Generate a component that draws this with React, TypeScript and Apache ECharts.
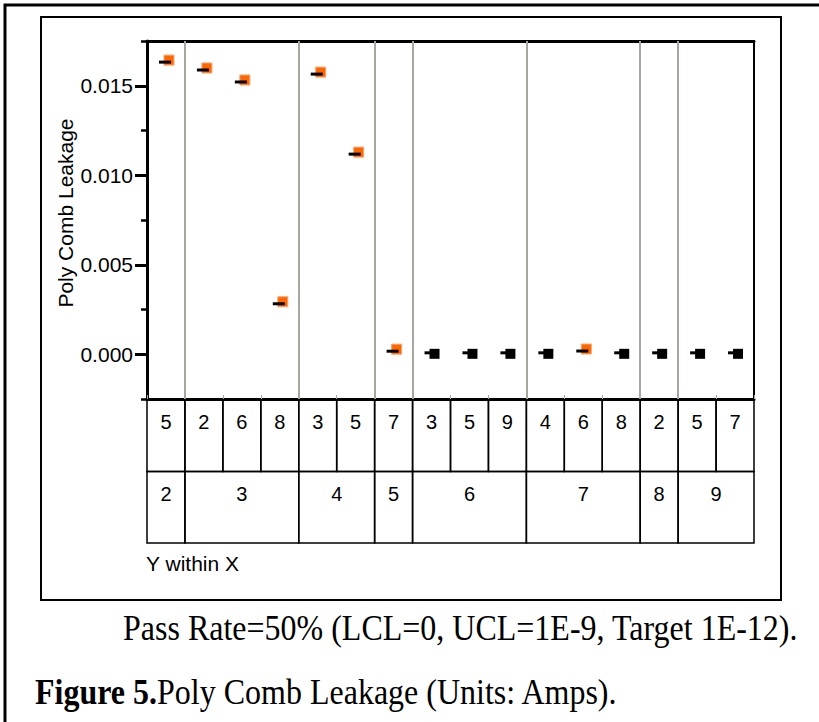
import React, { useEffect, useRef } from "react";
import * as echarts from "echarts";

// ---- data ----
const xLevels = ["2", "3", "3", "3", "4", "4", "5", "6", "6", "6", "7", "7", "7", "8", "9", "9"];
const yLevels = ["5", "2", "6", "8", "3", "5", "7", "3", "5", "9", "4", "6", "8", "2", "5", "7"];
const leakage = [0.01632, 0.01588, 0.01521, 0.00282, 0.01565, 0.01118, 0.00017, 0.00008, 0.00008, 0.00008, 0.00008, 0.00018, 0.00008, 0.00008, 0.00008, 0.00008];
const passed = [false, false, false, false, false, false, false, true, true, true, true, false, true, true, true, true];
const majorTicks = [0, 0.005, 0.01, 0.015];
const minorTicks = [-0.0025, 0.0025, 0.0075, 0.0125, 0.0175];
const yMin = -0.0025;
const yMax = 0.0175;
const yTitle = "Poly Comb Leakage";
const xTitle = "Y within X";
const caption1 = "Pass Rate=50% (LCL=0, UCL=1E-9, Target 1E-12).";
const captionBold = "Figure 5.";
const captionRest = "Poly Comb Leakage (Units: Amps).";

export default function App() {
  const ref = useRef<HTMLDivElement>(null);
  useEffect(() => {
    if (!ref.current) return;
    const chart = echarts.init(ref.current, null, { renderer: "svg" });
    const n = xLevels.length;

    // groups (consecutive runs of X level)
    const groups: { start: number; end: number; label: string }[] = [];
    xLevels.forEach((g, i) => {
      const last = groups[groups.length - 1];
      if (last && last.label === g) last.end = i + 1;
      else groups.push({ start: i, end: i + 1, label: g });
    });
    const boundaries = groups.slice(1).map((g) => g.start);

    const cells: { x0: number; x1: number; row: number; label: string }[] = [];
    yLevels.forEach((y, i) => cells.push({ x0: i, x1: i + 1, row: 0, label: y }));
    groups.forEach((g) => cells.push({ x0: g.start, x1: g.end, row: 1, label: g.label }));

    const font = "Liberation Sans, Arial, sans-serif";
    const serif = "Liberation Serif, Times New Roman, serif";

    const meanData = leakage.map((v, i) => [i + 0.5, v]);
    const failData = leakage.map((v, i) => (passed[i] ? [i + 0.5, null] : [i + 0.5, v]));
    const passData = leakage.map((v, i) => (passed[i] ? [i + 0.5, v] : [i + 0.5, null]));

    const option: any = {
      animation: false,
      backgroundColor: "#fff",
      grid: [
        { left: 147, top: 41, width: 607, height: 358, show: true, borderColor: "#000", borderWidth: 2, backgroundColor: "transparent" },
        { left: 147, top: 400, width: 607, height: 143 },
      ],
      xAxis: [
        {
          gridIndex: 0, type: "value", min: 0, max: n, interval: 1, position: "bottom",
          axisLine: { show: true, onZero: false, lineStyle: { color: "#000", width: 3 } },
          axisTick: { show: true, inside: true, length: 4, lineStyle: { color: "#aaa6a0", width: 1 } },
          axisLabel: { show: false }, splitLine: { show: false },
        },
        {
          gridIndex: 0, type: "value", min: 0, max: n, position: "top",
          axisLine: { show: true, onZero: false, lineStyle: { color: "#000", width: 3 } },
          axisTick: { show: false }, axisLabel: { show: false }, splitLine: { show: false },
        },
        { gridIndex: 1, type: "value", min: 0, max: n, show: false },
      ],
      yAxis: [
        {
          gridIndex: 0, type: "value", min: yMin, max: yMax, position: "left",
          axisLine: { show: true, onZero: false, lineStyle: { color: "#000", width: 3 } },
          axisTick: { show: true, length: 12, customValues: majorTicks, lineStyle: { color: "#000", width: 3 } },
          axisLabel: {
            customValues: majorTicks, margin: 14, fontSize: 21, color: "#000", fontFamily: font,
            formatter: (v: number) => v.toFixed(3),
          },
          splitLine: { show: false },
        },
        {
          gridIndex: 0, type: "value", min: yMin, max: yMax, position: "left",
          axisLine: { show: false },
          axisTick: { show: true, length: 6, customValues: minorTicks, lineStyle: { color: "#000", width: 2.5 } },
          axisLabel: { show: false }, splitLine: { show: false },
        },
        { gridIndex: 1, type: "value", min: 0, max: 2, inverse: true, show: false },
      ],
      series: [
        {
          type: "scatter", name: "fail", xAxisIndex: 0, yAxisIndex: 0,
          symbol: "rect", symbolSize: 10, symbolOffset: [3, -2],
          itemStyle: { color: "#ff6600", borderColor: "#f9a26c", borderWidth: 1, opacity: 1 },
          data: failData, z: 3,
          markLine: {
            silent: true, symbol: ["none", "none"], label: { show: false },
            lineStyle: { color: "#a9a59f", width: 2, type: "solid" },
            data: boundaries.map((b) => ({ xAxis: b })),
          },
        },
        {
          type: "scatter", name: "pass", xAxisIndex: 0, yAxisIndex: 0,
          symbol: "rect", symbolSize: 10, symbolOffset: [3, 1],
          itemStyle: { color: "#000", opacity: 1 },
          data: passData, z: 3,
        },
        {
          type: "scatter", name: "mean", xAxisIndex: 0, yAxisIndex: 0,
          symbol: "rect", symbolSize: [12, 3], symbolOffset: [-1, 0],
          itemStyle: { color: "#000", opacity: 1 },
          data: meanData, z: 4,
        },
        {
          type: "custom", xAxisIndex: 2, yAxisIndex: 2, clip: false,
          data: cells.map((c) => [c.x0, c.x1, c.row]),
          renderItem: (params: any, api: any) => {
            const c = cells[params.dataIndex];
            const p0 = api.coord([c.x0, c.row]);
            const p1 = api.coord([c.x1, c.row + 1]);
            return {
              type: "group",
              children: [
                {
                  type: "rect",
                  shape: { x: p0[0], y: p0[1], width: p1[0] - p0[0], height: p1[1] - p0[1] },
                  style: { fill: "none", stroke: "#000", lineWidth: 1.5 },
                },
                {
                  type: "text",
                  x: (p0[0] + p1[0]) / 2,
                  y: p0[1] + 22,
                  style: { text: c.label, font: `20px ${font}`, fill: "#000", align: "center", verticalAlign: "middle" },
                },
              ],
            };
          },
        },
      ],
      graphic: [
        { type: "polyline", shape: { points: [[5, 722], [5, 5], [819, 5]] }, style: { stroke: "#000", lineWidth: 3, fill: "none" } },
        { type: "rect", shape: { x: 41, y: 17, width: 740, height: 583 }, style: { fill: "none", stroke: "#000", lineWidth: 2 } },
        { type: "text", x: 65, y: 213, rotation: Math.PI / 2, style: { text: yTitle, font: `21px ${font}`, fill: "#000", align: "center", verticalAlign: "middle" } },
        { type: "text", x: 146, y: 563, style: { text: xTitle, font: `21px ${font}`, fill: "#000", align: "left", verticalAlign: "middle" } },
        { type: "text", x: 123, y: 628, scaleY: 1.12, style: { text: caption1, font: `32px ${serif}`, fill: "#000", align: "left", verticalAlign: "middle" } },
        {
          type: "text", x: 35, y: 692, scaleY: 1.12,
          style: {
            text: `{b|${captionBold}}{n|${captionRest}}`,
            align: "left", verticalAlign: "middle", fill: "#000",
            rich: {
              b: { fontFamily: serif, fontSize: 32, fontWeight: "bold", fill: "#000" },
              n: { fontFamily: serif, fontSize: 32, fill: "#000" },
            },
          },
        },
      ],
    };
    chart.setOption(option);
    return () => chart.dispose();
  }, []);
  return <div ref={ref} style={{ position: "fixed", left: 0, top: 0, width: 819, height: 722 }} />;
}
